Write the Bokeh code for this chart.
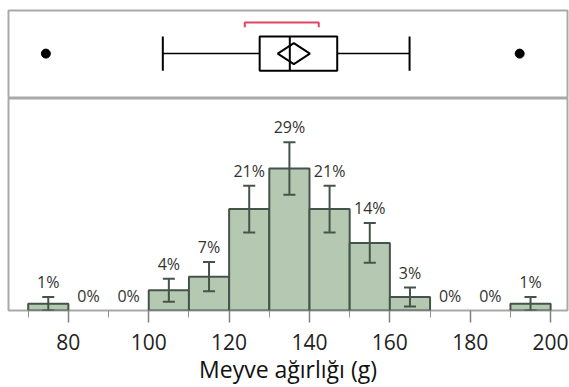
from bokeh.plotting import figure
from bokeh.layouts import column
from bokeh.models import Range1d, ColumnDataSource, FixedTicker
from bokeh.core.properties import value
from bokeh.embed import file_html
from bokeh.resources import INLINE

# ---- data ----
bin_left = [70, 80, 90, 100, 110, 120, 130, 140, 150, 160, 170, 180, 190]
counts = [1, 0, 0, 3, 5, 15, 21, 15, 10, 2, 0, 0, 1]
pct_labels = ["1%", "0%", "0%", "4%", "7%", "21%", "29%", "21%", "14%", "3%", "0%", "0%", "1%"]
std_err = [0.99, 0, 0, 1.70, 2.16, 3.45, 3.87, 3.45, 2.94, 1.40, 0, 0, 0.99]

q1, median, q3 = 127.6, 135.1, 146.9
whisker_lo, whisker_hi = 103.5, 164.9
mean, mean_ci_lo, mean_ci_hi = 136.1, 132.1, 140.1
shortest_half = (123.9, 142.3)
outliers = [74.4, 192.3]

x_ticks = [80, 100, 120, 140, 160, 180, 200]
x_minor = [70, 90, 110, 130, 150, 170, 190]
x_title = "Meyve ağırlığı (g)"

FONT = "Open Sans"
OUTLINE = "#a9a9a9"
xr = Range1d(65.1, 204.2)
y_max = 31.35

# ---- box plot panel ----
top = figure(width=569, height=98, x_range=xr, y_range=Range1d(0, 1),
             x_axis_type=None, y_axis_type=None, toolbar_location=None,
             output_backend="svg", min_border_top=10, min_border_bottom=0,
             min_border_left=8, min_border_right=2)
top.grid.visible = False
top.outline_line_color = OUTLINE
top.outline_line_width = 2
yc, bh = 0.51, 0.195
# whiskers
top.segment(x0=[whisker_lo, q3], y0=[yc, yc], x1=[q1, whisker_hi], y1=[yc, yc],
            line_color="black", line_width=1.5)
top.segment(x0=[whisker_lo, whisker_hi], y0=[yc - bh] * 2, x1=[whisker_lo, whisker_hi],
            y1=[yc + bh] * 2, line_color="black", line_width=2)
# box
top.quad(left=[q1], right=[q3], bottom=[yc - bh], top=[yc + bh],
         fill_color=None, line_color="black", line_width=2)
top.segment(x0=[median], y0=[yc - bh], x1=[median], y1=[yc + bh],
            line_color="black", line_width=2)
# mean diamond
dh = 0.12
top.patch(x=[mean_ci_lo, mean, mean_ci_hi, mean, mean_ci_lo],
          y=[yc, yc + dh, yc, yc - dh, yc], fill_color=None,
          line_color="black", line_width=2)
# shortest half bracket
sh0, sh1 = shortest_half
top.line(x=[sh0, sh0, sh1, sh1], y=[0.81, 0.865, 0.865, 0.81],
         line_color="#e0455f", line_width=2)
# outliers
top.scatter(x=outliers, y=[yc] * len(outliers), size=9, color="black")

# ---- histogram panel ----
bot = figure(width=569, height=289, x_range=xr, y_range=Range1d(0, y_max),
             y_axis_type=None, toolbar_location=None, output_backend="svg",
             min_border_top=0, min_border_bottom=74, min_border_left=8,
             min_border_right=2)
bot.grid.visible = False
bot.outline_line_color = OUTLINE
bot.outline_line_width = 2

centers = [b + 5 for b in bin_left]
nz = [i for i, c in enumerate(counts) if c > 0]
bars = ColumnDataSource(dict(
    x=[centers[i] for i in nz], top=[counts[i] for i in nz],
    lo=[counts[i] - std_err[i] for i in nz], hi=[counts[i] + std_err[i] for i in nz],
    cl=[centers[i] - 1.5 for i in nz], cr=[centers[i] + 1.5 for i in nz]))
bot.vbar(x="x", top="top", bottom=0, width=10, source=bars,
         fill_color="#b5c8b2", line_color="#45544a", line_width=2)
err_col = "#45544a"
bot.segment(x0="x", y0="lo", x1="x", y1="hi", source=bars, line_color=err_col, line_width=2)
bot.segment(x0="cl", y0="lo", x1="cr", y1="lo", source=bars, line_color=err_col, line_width=2)
bot.segment(x0="cl", y0="hi", x1="cr", y1="hi", source=bars, line_color=err_col, line_width=2)

labels = ColumnDataSource(dict(
    x=centers, y=[c + e for c, e in zip(counts, std_err)], t=pct_labels))
bot.text(x="x", y="y", text="t", source=labels, text_align="center",
         text_baseline="bottom", y_offset=-4, text_font=value(FONT),
         text_font_size="16px", text_color="#333333")

ax = bot.xaxis[0]
ax.ticker = FixedTicker(ticks=x_ticks, minor_ticks=x_minor)
ax.axis_line_color = None
ax.major_tick_in = 0
ax.major_tick_out = 12
ax.minor_tick_in = 0
ax.minor_tick_out = 7
ax.major_tick_line_color = "#808080"
ax.major_tick_line_width = 1.5
ax.minor_tick_line_color = "#909090"
ax.major_label_text_font = FONT
ax.major_label_text_font_size = "21px"
ax.major_label_text_color = "#222222"
ax.major_label_standoff = 11
ax.axis_label = x_title
ax.axis_label_text_font = FONT
ax.axis_label_text_font_size = "23px"
ax.axis_label_text_font_style = "normal"
ax.axis_label_text_color = "#111111"
ax.axis_label_standoff = 0

layout = column(top, bot, spacing=0)
open("out.html", "w").write(file_html(layout, INLINE))
